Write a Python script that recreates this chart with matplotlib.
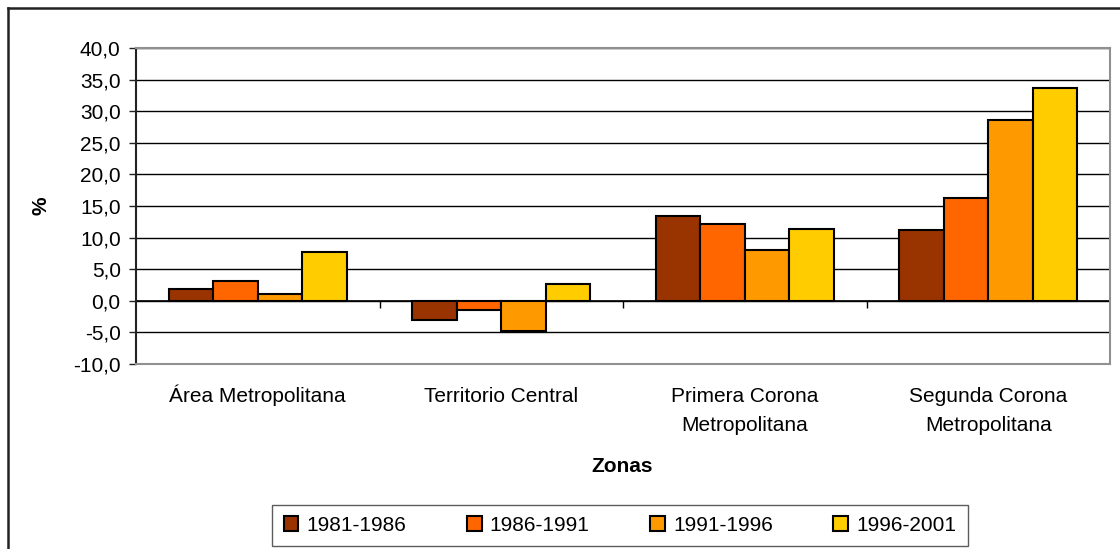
import matplotlib
matplotlib.use("Agg")
import matplotlib.pyplot as plt
from matplotlib.lines import Line2D
from matplotlib.ticker import FuncFormatter, MultipleLocator
import numpy as np

categories = ["Área Metropolitana", "Territorio Central",
              "Primera Corona\nMetropolitana", "Segunda Corona\nMetropolitana"]
series_names = ["1981-1986", "1986-1991", "1991-1996", "1996-2001"]
v_1981_1986 = [1.9, -3.1, 13.4, 11.2]
v_1986_1991 = [3.2, -1.5, 12.1, 16.3]
v_1991_1996 = [1.0, -4.7, 8.0, 28.6]
v_1996_2001 = [7.7, 2.7, 11.4, 33.7]
series_values = [v_1981_1986, v_1986_1991, v_1991_1996, v_1996_2001]
colors = ["#993300", "#FF6600", "#FF9900", "#FFCC00"]

plt.rcParams['font.family'] = ['Liberation Sans', 'DejaVu Sans']

fig = plt.figure(figsize=(11.2, 5.49), dpi=100)
ax = fig.add_axes([136/1120, 1-364/549, (1110-136)/1120, (364-48)/549])

x = np.arange(len(categories))
bw = 0.183
n = len(series_names)
for i, (name, vals, c) in enumerate(zip(series_names, series_values, colors)):
    ax.bar(x + (i - (n-1)/2) * bw, vals, width=bw, color=c, edgecolor="black",
           linewidth=1.5, label=name, zorder=3)

ax.set_xlim(-0.5, len(categories) - 0.5)
ax.set_ylim(-10, 40)
ax.yaxis.set_major_locator(MultipleLocator(5))
ax.yaxis.set_major_formatter(FuncFormatter(lambda v, p: f"{v:.1f}".replace(".", ",")))
ax.grid(axis="y", color="black", linewidth=1.0, zorder=0)
ax.set_axisbelow(True)

for s in ["top", "right", "bottom"]:
    ax.spines[s].set_color("#909090")
    ax.spines[s].set_linewidth(1.5)
ax.spines["left"].set_color("#222222")
ax.spines["left"].set_linewidth(1.5)

ax.tick_params(axis="y", direction="out", length=5, width=1, color="#222222",
               labelsize=15, pad=6)
ax.set_xticks(x)
# pad single-line labels with an empty second line so all first lines align
ax.set_xticklabels([c if "\n" in c else c + "\n" for c in categories],
                   fontsize=15, linespacing=1.63, va="baseline")
ax.tick_params(axis="x", length=0, pad=48)

# category axis at y = 0
sec = ax.secondary_xaxis(10/50)
sec.set_xticks(x[:-1] + 0.5)
sec.set_xticklabels([])
sec.tick_params(axis="x", direction="out", length=5, width=1, color="black")
sec.spines["bottom"].set_color("black")
sec.spines["bottom"].set_linewidth(1.2)

ax.set_ylabel("%", fontsize=15, fontweight="bold", labelpad=16)
fig.text(622/1120, 1-467/549, "Zonas", fontsize=15, fontweight="bold",
         ha="center", va="center")

leg = fig.legend(loc="center", bbox_to_anchor=(620/1120, 1-525.5/549), ncol=4,
                 fontsize=15, frameon=True, fancybox=False, shadow=False,
                 handlelength=0.7, handleheight=0.7, handletextpad=0.4,
                 columnspacing=2.9, borderpad=0.55)
leg.get_frame().set_edgecolor("#333333")
leg.get_frame().set_linewidth(1.0)

# outer chart frame (left and top edges visible)
fig.add_artist(Line2D([8/1120, 8/1120], [0, 1-8/549], transform=fig.transFigure,
                      color="#222222", linewidth=1.8))
fig.add_artist(Line2D([8/1120, 1], [1-8/549, 1-8/549], transform=fig.transFigure,
                      color="#222222", linewidth=1.8))

fig.savefig("out.png", dpi=100)
